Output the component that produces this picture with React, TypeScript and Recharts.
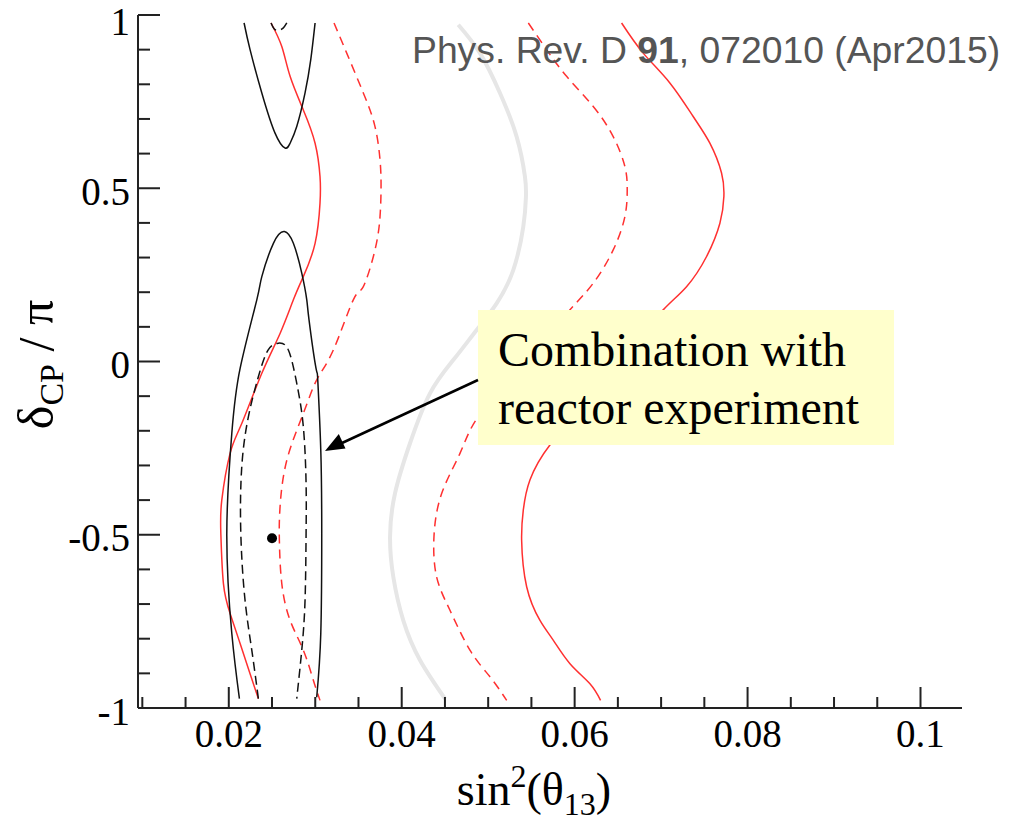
import { ComposedChart, Line, XAxis, YAxis, ReferenceDot } from 'recharts';

interface Pt {
  x: number;
  y: number;
}

// axis ticks (major ones carry a label)
const X_TICKS = [
  0.01, 0.015, 0.02, 0.025, 0.03, 0.035, 0.04, 0.045, 0.05, 0.055, 0.06, 0.065, 0.07, 0.075, 0.08, 0.085,
  0.09, 0.095, 0.1,
];
const X_MAJOR = [0.02, 0.04, 0.06, 0.08, 0.1];
const Y_TICKS = [-1, -0.9, -0.8, -0.7, -0.6, -0.5, -0.4, -0.3, -0.2, -0.1, 0, 0.1, 0.2, 0.3, 0.4, 0.5, 0.6, 0.7, 0.8, 0.9, 1];
const Y_MAJOR = [-1, -0.5, 0, 0.5, 1];

// T2K only, 68% CL (black solid), lower island
const T2K_68_LOW: Pt[] = [
  { x: 0.02123, y: -0.973 }, { x: 0.02035, y: -0.785 }, { x: 0.01977, y: -0.496 }, { x: 0.02035, y: -0.207 },
  { x: 0.02131, y: -0.02 }, { x: 0.02324, y: 0.178 }, { x: 0.02382, y: 0.245 }, { x: 0.02516, y: 0.341 },
  { x: 0.02643, y: 0.375 }, { x: 0.02747, y: 0.341 }, { x: 0.02844, y: 0.255 }, { x: 0.02902, y: 0.178 },
  { x: 0.02928, y: 0.12 }, { x: 0.03009, y: -0.02 }, { x: 0.03029, y: -0.053 }, { x: 0.03064, y: -0.256 },
  { x: 0.03075, y: -0.496 }, { x: 0.03064, y: -0.785 }, { x: 0.03017, y: -0.969 },
];

// T2K only, 68% CL (black solid), upper island
const T2K_68_HIGH: Pt[] = [
  { x: 0.02177, y: 0.977 }, { x: 0.02246, y: 0.9 }, { x: 0.02382, y: 0.775 }, { x: 0.02535, y: 0.659 },
  { x: 0.02651, y: 0.616 }, { x: 0.02709, y: 0.63 }, { x: 0.02786, y: 0.678 }, { x: 0.02882, y: 0.775 },
  { x: 0.02948, y: 0.871 }, { x: 0.02998, y: 0.977 },
];

// 90% CL (black dashed)
const T2K_90_LOW: Pt[] = [
  { x: 0.02342, y: -0.973 }, { x: 0.02266, y: -0.833 }, { x: 0.02188, y: -0.689 }, { x: 0.02139, y: -0.496 },
  { x: 0.0215, y: -0.304 }, { x: 0.02227, y: -0.159 }, { x: 0.02342, y: -0.044 }, { x: 0.02454, y: 0.033 },
  { x: 0.02573, y: 0.053 }, { x: 0.02689, y: 0.033 }, { x: 0.02786, y: -0.063 }, { x: 0.02862, y: -0.188 },
  { x: 0.02894, y: -0.352 }, { x: 0.02894, y: -0.496 }, { x: 0.02882, y: -0.689 }, { x: 0.02844, y: -0.833 },
  { x: 0.02786, y: -0.973 },
];
const T2K_90_HIGH: Pt[] = [
  { x: 0.02489, y: 0.977 }, { x: 0.02524, y: 0.96 }, { x: 0.02573, y: 0.956 }, { x: 0.02628, y: 0.962 },
  { x: 0.02671, y: 0.977 },
];

// red solid, left band edge
const RED_SOLID_L: Pt[] = [
  { x: 0.02489, y: 0.977 }, { x: 0.02613, y: 0.909 }, { x: 0.02709, y: 0.823 }, { x: 0.02862, y: 0.726 },
  { x: 0.02998, y: 0.63 }, { x: 0.03055, y: 0.534 }, { x: 0.03055, y: 0.457 }, { x: 0.02998, y: 0.341 },
  { x: 0.02862, y: 0.245 }, { x: 0.02747, y: 0.178 }, { x: 0.02593, y: 0.081 }, { x: 0.02382, y: -0.034 },
  { x: 0.0215, y: -0.179 }, { x: 0.02015, y: -0.265 }, { x: 0.01919, y: -0.4 }, { x: 0.01908, y: -0.496 },
  { x: 0.01938, y: -0.641 }, { x: 0.02015, y: -0.727 }, { x: 0.02131, y: -0.814 }, { x: 0.02246, y: -0.901 },
  { x: 0.02342, y: -0.973 },
];

// red dashed, left band edge
const RED_DASH_L: Pt[] = [
  { x: 0.03217, y: 0.977 }, { x: 0.03364, y: 0.89 }, { x: 0.03556, y: 0.775 }, { x: 0.03691, y: 0.678 },
  { x: 0.03749, y: 0.582 }, { x: 0.03761, y: 0.505 }, { x: 0.03749, y: 0.418 }, { x: 0.03691, y: 0.322 },
  { x: 0.03556, y: 0.216 }, { x: 0.0344, y: 0.178 }, { x: 0.03209, y: 0.033 }, { x: 0.03017, y: -0.053 },
  { x: 0.02862, y: -0.15 }, { x: 0.02671, y: -0.285 }, { x: 0.02593, y: -0.419 }, { x: 0.02585, y: -0.516 },
  { x: 0.02613, y: -0.641 }, { x: 0.02709, y: -0.747 }, { x: 0.02862, y: -0.833 }, { x: 0.02978, y: -0.92 },
  { x: 0.03055, y: -0.978 },
];

// reactor value (light grey)
const REACTOR: Pt[] = [
  { x: 0.04654, y: 0.972 }, { x: 0.04905, y: 0.89 }, { x: 0.05136, y: 0.775 }, { x: 0.05329, y: 0.649 },
  { x: 0.05425, y: 0.534 }, { x: 0.05437, y: 0.476 }, { x: 0.05406, y: 0.389 }, { x: 0.0529, y: 0.264 },
  { x: 0.05098, y: 0.168 }, { x: 0.04867, y: 0.091 }, { x: 0.04596, y: 0.004 }, { x: 0.04327, y: -0.092 },
  { x: 0.04096, y: -0.236 }, { x: 0.03922, y: -0.381 }, { x: 0.03865, y: -0.506 }, { x: 0.03903, y: -0.622 },
  { x: 0.04018, y: -0.747 }, { x: 0.04212, y: -0.862 }, { x: 0.04501, y: -0.973 },
];

// red dashed, right band edge
const RED_DASH_R: Pt[] = [
  { x: 0.05464, y: 0.977 }, { x: 0.05676, y: 0.9 }, { x: 0.05907, y: 0.823 }, { x: 0.06215, y: 0.736 },
  { x: 0.06446, y: 0.649 }, { x: 0.06581, y: 0.563 }, { x: 0.06608, y: 0.495 }, { x: 0.06581, y: 0.418 },
  { x: 0.06446, y: 0.322 }, { x: 0.06215, y: 0.226 }, { x: 0.05946, y: 0.149 }, { x: 0.05657, y: 0.062 },
  { x: 0.0531, y: -0.039 }, { x: 0.04885, y: -0.159 }, { x: 0.04674, y: -0.265 }, { x: 0.04462, y: -0.381 },
  { x: 0.04373, y: -0.506 }, { x: 0.04404, y: -0.622 }, { x: 0.04558, y: -0.718 }, { x: 0.04789, y: -0.833 },
  { x: 0.05021, y: -0.91 }, { x: 0.05214, y: -0.978 },
];

// red solid, right band edge
const RED_SOLID_R: Pt[] = [
  { x: 0.06543, y: 0.977 }, { x: 0.06793, y: 0.89 }, { x: 0.07101, y: 0.804 }, { x: 0.07371, y: 0.707 },
  { x: 0.07564, y: 0.63 }, { x: 0.07699, y: 0.544 }, { x: 0.07726, y: 0.476 }, { x: 0.0768, y: 0.399 },
  { x: 0.07526, y: 0.303 }, { x: 0.07294, y: 0.216 }, { x: 0.07024, y: 0.149 }, { x: 0.06755, y: 0.062 },
  { x: 0.06408, y: -0.048 }, { x: 0.06061, y: -0.146 }, { x: 0.05714, y: -0.241 }, { x: 0.05483, y: -0.342 },
  { x: 0.05406, y: -0.429 }, { x: 0.05387, y: -0.516 }, { x: 0.05445, y: -0.65 }, { x: 0.05599, y: -0.747 },
  { x: 0.05752, y: -0.804 }, { x: 0.05946, y: -0.872 }, { x: 0.06177, y: -0.93 }, { x: 0.063, y: -0.978 },
];

const BEST_FIT: Pt[] = [{ x: 0.025, y: -0.51 }];

const FRAME = '#222';
const RED = '#ff3030';
const SERIF = '"Liberation Serif", "Times New Roman", serif';

interface TickProps {
  x?: number;
  y?: number;
  payload?: { value: number };
}

const XTick = ({ x = 0, y = 0, payload, side }: TickProps & { side: 'bottom' | 'top' }) => {
  const v = payload?.value ?? 0;
  const len = X_MAJOR.includes(v) ? 21 : 11;
  const dir = side === 'bottom' ? -1 : 1;
  return (
    <g>
      <line x1={x} y1={y} x2={x} y2={y + dir * len} stroke={FRAME} strokeWidth={2} />
      {side === 'bottom' && X_MAJOR.includes(v) && (
        <text x={x} y={y + 39} textAnchor="middle" fontFamily={SERIF} fontSize={39} fill="#000">
          {String(v)}
        </text>
      )}
    </g>
  );
};

const YTick = ({ x = 0, y = 0, payload, side }: TickProps & { side: 'left' | 'right' }) => {
  const v = payload?.value ?? 0;
  const len = Y_MAJOR.includes(v) ? 22 : 12;
  const dir = side === 'left' ? 1 : -1;
  const mid = Math.max(y + 3, 21);
  return (
    <g>
      <line x1={x} y1={y} x2={x + dir * len} y2={y} stroke={FRAME} strokeWidth={2} />
      {side === 'left' && Y_MAJOR.includes(v) && (
        <text x={x - 8} y={mid + 13.5} textAnchor="end" fontFamily={SERIF} fontSize={39} fill="#000">
          {String(v)}
        </text>
      )}
    </g>
  );
};

interface LabelProps {
  viewBox?: { x: number; y: number; width: number; height: number };
}

const XTitle = ({ viewBox }: LabelProps) => {
  if (!viewBox) return null;
  return (
    <text x={viewBox.x + viewBox.width / 2 - 16} y={viewBox.y + 97} textAnchor="middle" fontFamily={SERIF} fontSize={46} fill="#000">
      sin
      <tspan fontSize={32} dy={-18}>2</tspan>
      <tspan dy={18}>(θ</tspan>
      <tspan fontSize={32} dy={10}>13</tspan>
      <tspan dy={-10}>)</tspan>
    </text>
  );
};

const YTitle = ({ viewBox }: LabelProps) => {
  if (!viewBox) return null;
  const cx = 53;
  const cy = viewBox.y + viewBox.height / 2 + 3;
  return (
    <text x={cx} y={cy} transform={`rotate(-90 ${cx} ${cy})`} textAnchor="middle" fontFamily={SERIF} fontSize={50} fill="#000">
      δ
      <tspan fontSize={34} dy={10}>CP</tspan>
      <tspan dy={-10}> / π</tspan>
    </text>
  );
};

const axisLine = { stroke: FRAME, strokeWidth: 2 };
const X_DOMAIN: [number, number] = [0.0095, 0.1048];
const Y_DOMAIN: [number, number] = [-1, 1];

export default function App() {
  return (
    <div style={{ position: 'absolute', left: 0, top: 0, width: 1011, height: 821, background: '#fff' }}>
      <ComposedChart width={1011} height={821} margin={{ top: 15, right: 49, bottom: 0, left: 0 }}>
        <XAxis
          dataKey="x"
          type="number"
          domain={X_DOMAIN}
          allowDataOverflow
          ticks={X_TICKS}
          interval={0}
          height={113}
          tickSize={0}
          tickMargin={0}
          tickLine={false}
          axisLine={axisLine}
          tick={(p: TickProps) => <XTick {...p} side="bottom" />}
          label={{ content: (p: LabelProps) => <XTitle {...p} /> }}
        />
        <XAxis
          xAxisId="top"
          orientation="top"
          dataKey="x"
          type="number"
          domain={X_DOMAIN}
          allowDataOverflow
          ticks={X_TICKS}
          interval={0}
          height={0}
          tickSize={0}
          tickMargin={0}
          tickLine={false}
          axisLine={axisLine}
          tick={(p: TickProps) => <XTick {...p} side="top" />}
        />
        <YAxis
          type="number"
          domain={Y_DOMAIN}
          allowDataOverflow
          ticks={Y_TICKS}
          interval={0}
          width={138}
          tickSize={0}
          tickMargin={0}
          tickLine={false}
          axisLine={axisLine}
          tick={(p: TickProps) => <YTick {...p} side="left" />}
          label={{ content: (p: LabelProps) => <YTitle {...p} /> }}
        />
        <YAxis
          yAxisId="right"
          orientation="right"
          type="number"
          domain={Y_DOMAIN}
          allowDataOverflow
          ticks={Y_TICKS}
          interval={0}
          width={0}
          tickSize={0}
          tickMargin={0}
          tickLine={false}
          axisLine={axisLine}
          tick={(p: TickProps) => <YTick {...p} side="right" />}
        />

        <Line data={REACTOR} dataKey="y" type="natural" stroke="#e6e6e6" strokeWidth={4} dot={false} activeDot={false} isAnimationActive={false} />
        <Line data={RED_SOLID_L} dataKey="y" type="natural" stroke={RED} strokeWidth={1.5} dot={false} activeDot={false} isAnimationActive={false} />
        <Line data={RED_SOLID_R} dataKey="y" type="natural" stroke={RED} strokeWidth={1.5} dot={false} activeDot={false} isAnimationActive={false} />
        <Line data={RED_DASH_L} dataKey="y" type="natural" stroke={RED} strokeWidth={1.5} strokeDasharray="9 6" dot={false} activeDot={false} isAnimationActive={false} />
        <Line data={RED_DASH_R} dataKey="y" type="natural" stroke={RED} strokeWidth={1.5} strokeDasharray="9 6" dot={false} activeDot={false} isAnimationActive={false} />
        <Line data={T2K_68_LOW} dataKey="y" type="natural" stroke="#111" strokeWidth={1.5} dot={false} activeDot={false} isAnimationActive={false} />
        <Line data={T2K_68_HIGH} dataKey="y" type="natural" stroke="#111" strokeWidth={1.5} dot={false} activeDot={false} isAnimationActive={false} />
        <Line data={T2K_90_LOW} dataKey="y" type="natural" stroke="#111" strokeWidth={1.5} strokeDasharray="9 5" dot={false} activeDot={false} isAnimationActive={false} />
        <Line data={T2K_90_HIGH} dataKey="y" type="natural" stroke="#111" strokeWidth={1.5} strokeDasharray="9 5" dot={false} activeDot={false} isAnimationActive={false} />
        <ReferenceDot x={BEST_FIT[0].x} y={BEST_FIT[0].y} r={5} fill="#000" stroke="none" />
      </ComposedChart>

      {/* annotation + reference, drawn above the plot */}
      <svg width={1011} height={821} style={{ position: 'absolute', left: 0, top: 0, pointerEvents: 'none' }}>
        <text x={412} y={63} fontFamily='"Liberation Sans", Arial, sans-serif' fontSize={37.3} fill="#555">
          Phys. Rev. D <tspan fontWeight="bold">91</tspan>, 072010 (Apr2015)
        </text>
        <rect x={478} y={310} width={416} height={135} fill="#ffffcc" />
        <text x={498} y={366} fontFamily={SERIF} fontSize={48} fill="#000">
          Combination with
        </text>
        <text x={498} y={424} fontFamily={SERIF} fontSize={48} fill="#000">
          reactor experiment
        </text>
        <line x1={478} y1={380} x2={342} y2={443} stroke="#000" strokeWidth={2.5} />
        <polygon points="325,451 345.5,448.5 338.8,434" fill="#000" />
      </svg>
    </div>
  );
}
